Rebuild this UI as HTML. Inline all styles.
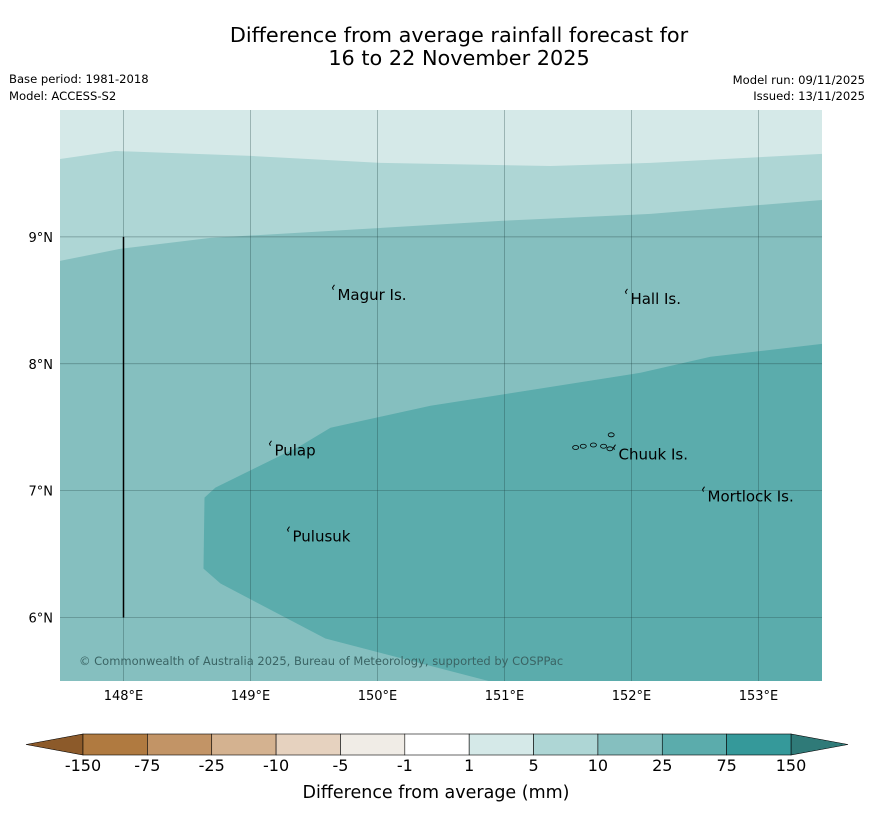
<!DOCTYPE html>
<html><head><meta charset="utf-8"><style>
body{margin:0;background:#fff;font-family:"Liberation Sans","DejaVu Sans",sans-serif}
</style></head><body>
<svg width="873" height="816" xmlns="http://www.w3.org/2000/svg" style="font-family:'DejaVu Sans','Liberation Sans',sans-serif">
<text x="459" y="42" text-anchor="middle" font-size="20.8">Difference from average rainfall forecast for</text>
<text x="459" y="65" text-anchor="middle" font-size="20.8">16 to 22 November 2025</text>
<text x="9" y="83" font-size="11.6">Base period: 1981-2018</text>
<text x="9" y="100" font-size="11.6">Model: ACCESS-S2</text>
<text x="865" y="84" font-size="11.6" text-anchor="end">Model run: 09/11/2025</text>
<text x="865" y="100" font-size="11.6" text-anchor="end">Issued: 13/11/2025</text>
<g id="map"></g>
<g id="cbar"></g>
<text x="436" y="798" text-anchor="middle" font-size="17.5">Difference from average (mm)</text>
</svg>
<script>
const lonTicks=[148,149,150,151,152,153];
const latTicks=[6,7,8,9];
const boundaryA=[[147.5,9.614],[147.937,9.677],[149.0,9.638],[150.024,9.583],[151.362,9.559],[152.15,9.583],[153.5,9.654]];
const boundaryB=[[147.5,8.811],[147.976,8.906],[148.685,8.992],[150.969,9.126],[152.15,9.181],[153.5,9.291]];
const regionC=[[153.5,8.157],[152.622,8.055],[152.071,7.929],[150.417,7.669],[149.63,7.496],[149.394,7.354],[148.724,7.024],[148.638,6.945],[148.63,6.386],[148.764,6.268],[149.59,5.835],[150.89,5.496],[153.5,5.496]];
const islands=[["Magur Is.",149.669,8.591],["Hall Is.",151.976,8.559],["Pulap",149.173,7.362],["Pulusuk",149.315,6.685],["Chuuk Is.",151.882,7.331],["Mortlock Is.",152.583,7.0]];
const chuukAtolls=[[151.56,7.34],[151.62,7.35],[151.7,7.36],[151.78,7.35],[151.84,7.44],[151.83,7.33]];
const cbLabels=["-150","-75","-25","-10","-5","-1","1","5","10","25","75","150"];
const cbColors=["#b07a40","#c29466","#d4b290","#e6d2bf","#f0ece6","#ffffff","#d5e9e8","#aed6d5","#85bfbf","#5bacac","#35999a"];
const NS="http://www.w3.org/2000/svg";
const X0=60,X1=822,Y0=110,Y1=681,LON0=147.5,LON1=153.5,LAT0=5.5,LAT1=10.0;
const xs=l=>X0+(l-LON0)/(LON1-LON0)*(X1-X0);
const ys=l=>Y1-(l-LAT0)/(LAT1-LAT0)*(Y1-Y0);
function mk(tag,attrs,parent){const e=document.createElementNS(NS,tag);for(const k in attrs)e.setAttribute(k,attrs[k]);parent.appendChild(e);return e;}
const map=document.getElementById('map');
const clip=mk('clipPath',{id:'mc'},map);mk('rect',{x:X0,y:Y0,width:X1-X0,height:Y1-Y0},clip);
const g=mk('g',{'clip-path':'url(#mc)'},map);
let r=mk('rect',{x:X0,y:Y0,width:X1-X0,height:Y1-Y0,fill:'#d5e9e8'},g);


const pts=a=>a.map(p=>xs(p[0]).toFixed(1)+','+ys(p[1]).toFixed(1)).join(' ');
let p=mk('polygon',{points:pts(boundaryA)+' '+xs(LON1)+','+Y1+' '+xs(LON0)+','+Y1,fill:'#aed6d5'},g);


p=mk('polygon',{points:pts(boundaryB)+' '+xs(LON1)+','+Y1+' '+xs(LON0)+','+Y1,fill:'#85bfbf'},g);


p=mk('polygon',{points:pts(regionC),fill:'#5bacac'},g);


lonTicks.forEach(l=>{const x=xs(l);
 const ln=mk('line',{x1:x,x2:x,y1:Y0,y2:Y1,stroke:'#1f4040','stroke-width':0.7,'stroke-opacity':0.45},g);
 
 
 const t=mk('text',{x:x,y:700,'text-anchor':'middle','font-size':13},map);t.textContent=l+'°E';
 
 });
latTicks.forEach(l=>{const y=ys(l);
 const ln=mk('line',{x1:X0,x2:X1,y1:y,y2:y,stroke:'#1f4040','stroke-width':0.7,'stroke-opacity':0.45},g);
 
 
 const t=mk('text',{x:53,y:y+5,'text-anchor':'end','font-size':13},map);t.textContent=l+'°N';
 
 });
let vl=mk('line',{x1:xs(148),x2:xs(148),y1:ys(9),y2:ys(6),stroke:'#000','stroke-width':1.5},g);


chuukAtolls.forEach(a=>{const e=mk('ellipse',{cx:xs(a[0]),cy:ys(a[1]),rx:3,ry:2,fill:'none',stroke:'#000','stroke-width':0.8},g);
 
 });
islands.forEach(d=>{const x=xs(d[1]),y=ys(d[2]);
 const m=mk('path',{d:`M${x-1},${y-4} l-2,3 l1,2`,stroke:'#000','stroke-width':1,fill:'none'},g);
 
 
 const t=mk('text',{x:x+2,y:y+11,'font-size':15},g);t.textContent=d[0];
 
 });
let c=mk('text',{x:79,y:665,'font-size':11.5,fill:'#3a6464'},g);c.textContent='© Commonwealth of Australia 2025, Bureau of Meteorology, supported by COSPPac';


const cb=document.getElementById('cbar');
const CX0=83,CX1=791,CY0=734,CY1=755,w=(CX1-CX0)/cbColors.length;
let tl=mk('polygon',{points:`${CX0},${CY0} ${CX0},${CY1} 26,${(CY0+CY1)/2}`,fill:'#8c5a2a',stroke:'#000','stroke-width':0.6},cb);


let tr=mk('polygon',{points:`${CX1},${CY0} ${CX1},${CY1} 848,${(CY0+CY1)/2}`,fill:'#2f7a78',stroke:'#000','stroke-width':0.6},cb);


cbColors.forEach((col,i)=>{const b=mk('rect',{x:CX0+i*w,y:CY0,width:w,height:CY1-CY0,fill:col,stroke:'#000','stroke-width':0.6},cb);
 
 });
cbLabels.forEach((s,i)=>{const t=mk('text',{x:CX0+i*w,y:771,'text-anchor':'middle','font-size':16},cb);t.textContent=s;
 
 });
</script>
</body></html>
